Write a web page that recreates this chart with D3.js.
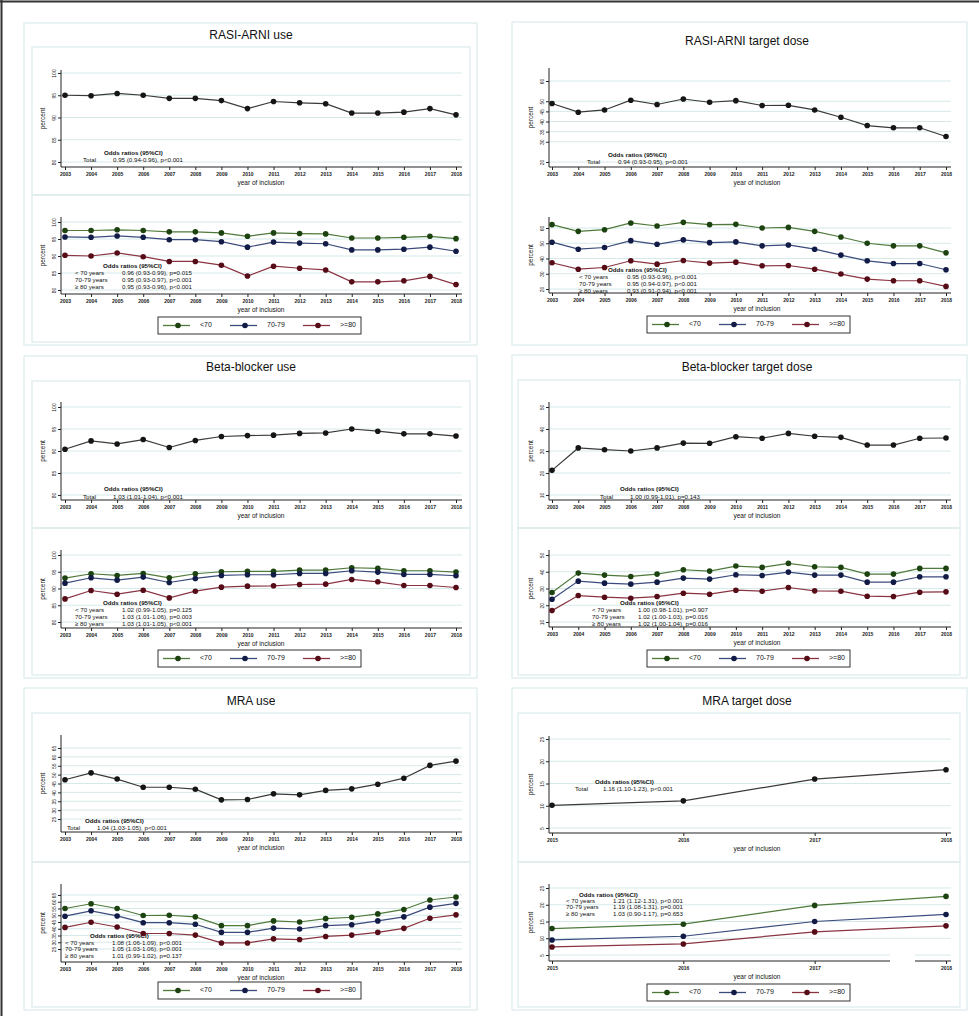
<!DOCTYPE html>
<html lang="en">
<head>
<meta charset="UTF-8">
<title>Treatment trends by year of inclusion</title>
<script src="https://cdn.jsdelivr.net/npm/d3@7"></script>
<style>
  body { margin: 0; background: #fff; }
  svg { display: block; font-family: "Liberation Sans", Arial, sans-serif; }
</style>
</head>
<body>
<div id="chart"></div>
<script>
// ---- data ----
const years = [2003, 2004, 2005, 2006, 2007, 2008, 2009, 2010, 2011, 2012, 2013, 2014, 2015, 2016, 2017, 2018];
const yearsMraDose = [2015, 2016, 2017, 2018];
const groups = ["<70", "70-79", ">=80"];
const orLabels = ["< 70 years", "70-79 years", "\u2265 80 years"];

// RASI-ARNI use
const rasiUseTotal = [95.0, 94.9, 95.4, 95.0, 94.3, 94.3, 93.8, 92.0, 93.6, 93.3, 93.1, 91.0, 91.0, 91.2, 92.0, 90.6];
const rasiUseLt70 = [97.5, 97.5, 97.7, 97.5, 97.1, 97.1, 96.8, 95.8, 96.8, 96.6, 96.5, 95.3, 95.3, 95.5, 95.8, 95.1];
const rasiUse7079 = [95.6, 95.5, 95.9, 95.5, 94.8, 94.8, 94.2, 92.6, 94.1, 93.8, 93.6, 91.8, 91.8, 92.0, 92.6, 91.4];
const rasiUseGe80 = [90.2, 90.0, 90.9, 89.8, 88.4, 88.4, 87.3, 84.1, 87.0, 86.4, 85.9, 82.4, 82.4, 82.7, 84.0, 81.6];
const rasiUseTicks = [80, 85, 90, 95, 100];
const rasiUseOrTotal = "0.95 (0.94-0.96), p<0.001";
const rasiUseOrAge = ["0.96 (0.93-0.99), p=0.015", "0.95 (0.93-0.97), p<0.001", "0.95 (0.93-0.96), p<0.001"];

// RASI-ARNI target dose
const rasiDoseTotal = [48.9, 44.6, 45.7, 50.5, 48.4, 51.1, 49.5, 50.3, 47.9, 48.0, 45.7, 42.1, 38.0, 36.9, 36.9, 32.6];
const rasiDoseLt70 = [62.2, 57.8, 58.9, 63.3, 61.3, 63.7, 62.2, 62.4, 60.0, 60.4, 57.8, 54.1, 50.0, 48.3, 48.3, 43.7];
const rasiDose7079 = [50.7, 46.1, 47.2, 51.7, 49.3, 52.2, 50.4, 50.9, 48.3, 48.9, 46.1, 42.2, 38.5, 36.7, 36.7, 32.6];
const rasiDoseGe80 = [37.2, 33.0, 34.1, 38.5, 36.3, 38.7, 37.0, 37.6, 35.2, 35.4, 33.0, 29.8, 26.5, 25.4, 25.4, 21.7];
const rasiDoseTicksTotal = [20, 30, 35, 40, 45, 50, 60];
const rasiDoseTicksAge = [20, 30, 40, 50, 60];
const rasiDoseOrTotal = "0.94 (0.93-0.95), p<0.001";
const rasiDoseOrAge = ["0.95 (0.93-0.96), p<0.001", "0.95 (0.94-0.97), p<0.001", "0.93 (0.91-0.94), p<0.001"];

// Beta-blocker use
const bbUseTotal = [90.4, 92.3, 91.6, 92.6, 90.8, 92.4, 93.3, 93.5, 93.6, 94.0, 94.1, 95.0, 94.5, 93.9, 93.9, 93.4];
const bbUseLt70 = [93.1, 94.4, 93.9, 94.5, 93.2, 94.4, 95.0, 95.1, 95.1, 95.5, 95.5, 96.2, 96.0, 95.3, 95.3, 94.9];
const bbUse7079 = [91.6, 93.2, 92.5, 93.4, 91.8, 93.0, 93.9, 94.1, 94.1, 94.5, 94.5, 95.3, 94.9, 94.2, 94.2, 93.8];
const bbUseGe80 = [86.9, 89.4, 88.3, 89.5, 87.2, 89.2, 90.4, 90.7, 90.8, 91.2, 91.3, 92.7, 92.0, 90.9, 90.9, 90.3];
const bbUseTicks = [80, 85, 90, 95, 100];
const bbUseOrTotal = "1.03 (1.01-1.04), p<0.001";
const bbUseOrAge = ["1.02 (0.99-1.05), p=0.125", "1.03 (1.01-1.06), p=0.003", "1.03 (1.01-1.05), p<0.001"];

// Beta-blocker target dose
const bbDoseTotal = [21.2, 31.4, 30.6, 30.0, 31.4, 33.6, 33.5, 36.5, 35.8, 38.0, 36.7, 36.2, 32.7, 32.7, 35.8, 35.9];
const bbDoseLt70 = [27.6, 39.2, 38.0, 37.2, 38.6, 41.2, 40.4, 43.4, 42.6, 45.0, 43.0, 42.6, 38.6, 38.6, 42.0, 42.0];
const bbDose7079 = [23.6, 34.4, 33.2, 32.6, 33.8, 36.2, 35.6, 38.2, 37.8, 39.8, 38.0, 38.0, 33.8, 33.8, 37.0, 37.0];
const bbDoseGe80 = [16.8, 25.8, 24.8, 24.2, 25.2, 27.2, 26.6, 29.0, 28.4, 30.6, 28.6, 28.4, 25.4, 25.2, 27.8, 28.0];
const bbDoseTicks = [10, 20, 30, 40, 50];
const bbDoseOrTotal = "1.00 (0.99-1.01), p=0.143";
const bbDoseOrAge = ["1.00 (0.98-1.01), p=0.907", "1.02 (1.00-1.03), p=0.016", "1.02 (1.00-1.04), p=0.016"];

// MRA use
const mraUseTotal = [47.1, 51.0, 47.5, 42.9, 42.9, 41.8, 35.8, 36.0, 39.2, 38.6, 41.1, 42.0, 44.6, 48.0, 55.2, 57.6];
const mraUseLt70 = [55.0, 58.5, 55.0, 49.8, 50.0, 48.8, 42.3, 42.3, 45.8, 45.0, 47.5, 48.5, 51.0, 54.3, 61.3, 63.5];
const mraUse7079 = [49.3, 53.3, 49.5, 44.5, 44.5, 43.3, 37.3, 37.3, 40.5, 39.8, 42.3, 43.0, 45.8, 48.8, 56.0, 58.8];
const mraUseGe80 = [41.0, 44.8, 41.3, 36.5, 36.5, 35.3, 29.5, 29.5, 32.5, 32.0, 34.3, 35.3, 37.3, 40.3, 47.8, 50.3];
const mraUseTicks = [25, 30, 35, 40, 45, 50, 55, 60, 65];
const mraUseOrTotal = "1.04 (1.03-1.05), p<0.001";
const mraUseOrAge = ["1.08 (1.06-1.09), p<0.001", "1.05 (1.03-1.06), p<0.001", "1.01 (0.99-1.02), p=0.137"];

// MRA target dose
const mraDoseTotal = [10.1, 11.1, 16.0, 18.1];
const mraDoseLt70 = [12.9, 14.2, 19.8, 22.5];
const mraDose7079 = [9.5, 10.6, 15.0, 17.1];
const mraDoseGe80 = [7.4, 8.3, 11.9, 13.7];
const mraDoseTicks = [5, 10, 15, 20, 25];
const mraDoseOrTotal = "1.16 (1.10-1.23), p<0.001";
const mraDoseOrAge = ["1.21 (1.12-1.31), p<0.001", "1.19 (1.08-1.31), p=0.001", "1.03 (0.90-1.17), p=0.653"];

// ---- styling ----
const groupLine = ["#4f7a3b", "#3b4b7c", "#8a3442"];
const groupDot = ["#1c4210", "#111b45", "#560c17"];
const boxColor = "#dcecec";
const gridColor = "#d6e9e9";

const width = 979, height = 1016;
const svg = d3.select("#chart").append("svg")
    .attr("width", width)
    .attr("height", height);

// column geometry
const cols = [
    { axisX: 61, rightX: 462, xFirst: 65, xLast: 456, center: 251, legendX: 158 },
    { axisX: 549, rightX: 951, xFirst: 552, xLast: 946, center: 747, legendX: 647 }
];

function box(b) {
    svg.append("rect")
        .attr("x", b[0]).attr("y", b[1])
        .attr("width", b[2] - b[0]).attr("height", b[3] - b[1])
        .attr("fill", "none")
        .attr("stroke", boxColor)
        .attr("stroke-width", 1.2);
}

function drawPlot(p) {
    const c = cols[p.col];
    const g = svg.append("g");

    const x = d3.scaleLinear()
        .domain([p.xs[0], p.xs[p.xs.length - 1]])
        .range([c.xFirst, c.xLast]);
    const y = d3.scaleLinear()
        .domain([p.refA[0], p.refB[0]])
        .range([p.refA[1], p.refB[1]]);

    g.append("text")
        .attr("x", c.center).attr("y", p.subY)
        .attr("text-anchor", "middle").attr("dominant-baseline", "middle")
        .attr("font-size", 9).attr("fill", "#111")
        .text(p.subtitle);

    // gridlines
    g.append("g").selectAll("line")
        .data(p.ticks)
        .join("line")
        .attr("x1", c.axisX).attr("x2", c.rightX)
        .attr("y1", d => y(d)).attr("y2", d => y(d))
        .attr("stroke", gridColor).attr("stroke-width", 1);

    // y axis
    g.append("g")
        .attr("transform", `translate(${c.axisX},0)`)
        .call(d3.axisLeft(y).tickValues(p.ticks).tickSize(3).tickFormat(d3.format("d")))
        .call(a => a.select(".domain").remove())
        .call(a => a.selectAll("line").attr("stroke", "#222"))
        .call(a => a.selectAll("text")
            .attr("transform", "rotate(-90)")
            .attr("x", 0).attr("y", -5).attr("dy", 0)
            .attr("text-anchor", "middle")
            .attr("font-size", 5).attr("fill", "#222"));
    g.append("line")
        .attr("x1", c.axisX).attr("x2", c.axisX)
        .attr("y1", p.axisTop).attr("y2", p.base)
        .attr("stroke", "#222").attr("stroke-width", 1);

    g.append("text")
        .attr("transform", `translate(${c.axisX - 16},${(p.axisTop + p.base) / 2}) rotate(-90)`)
        .attr("text-anchor", "middle")
        .attr("font-size", 6.5).attr("fill", "#111")
        .text("percent");

    // x axis
    g.append("g")
        .attr("transform", `translate(0,${p.base})`)
        .call(d3.axisBottom(x).tickValues(p.xs).tickSize(3).tickFormat(d3.format("d")))
        .call(a => a.select(".domain").remove())
        .call(a => a.selectAll("line").attr("stroke", "#222"))
        .call(a => a.selectAll("text")
            .attr("y", 5).attr("dy", "0.71em")
            .attr("font-size", 5).attr("font-weight", "bold").attr("fill", "#222"));
    g.append("line")
        .attr("x1", c.axisX).attr("x2", c.rightX)
        .attr("y1", p.base).attr("y2", p.base)
        .attr("stroke", "#222").attr("stroke-width", 1);

    g.append("text")
        .attr("x", c.center + 10).attr("y", p.base + 16)
        .attr("text-anchor", "middle").attr("dominant-baseline", "middle")
        .attr("font-size", 6.5).attr("fill", "#111")
        .text("year of inclusion");

    // odds ratio note
    const n = p.note;
    g.append("text")
        .attr("x", n.headX).attr("y", n.headY)
        .attr("dominant-baseline", "middle")
        .attr("font-size", 6.2).attr("font-weight", "bold").attr("fill", "#111")
        .text("Odds ratios (95%CI)");
    n.rows.forEach((r, i) => {
        g.append("text")
            .attr("x", n.labelX).attr("y", n.firstY + i * n.gap)
            .attr("dominant-baseline", "middle")
            .attr("font-size", 6.2).attr("fill", "#111")
            .text(r[0]);
        g.append("text")
            .attr("x", n.valueX).attr("y", n.firstY + i * n.gap)
            .attr("dominant-baseline", "middle")
            .attr("font-size", 6.2).attr("fill", "#111")
            .text(r[1]);
    });

    // series
    const line = d3.line().x((d, i) => x(p.xs[i])).y(d => y(d));
    p.series.forEach(s => {
        g.append("path")
            .datum(s.values)
            .attr("fill", "none")
            .attr("stroke", s.line)
            .attr("stroke-width", 1.2)
            .attr("d", line);
        g.append("g").selectAll("circle")
            .data(s.values)
            .join("circle")
            .attr("cx", (d, i) => x(p.xs[i]))
            .attr("cy", d => y(d))
            .attr("r", 2.8)
            .attr("fill", s.dot);
    });
}

function drawLegend(col, top) {
    const lx = cols[col].legendX;
    const g = svg.append("g").attr("transform", `translate(${lx},${top})`);
    g.append("rect")
        .attr("width", 203).attr("height", 17)
        .attr("fill", "#fff").attr("stroke", "#333").attr("stroke-width", 1);
    const item = d3.scaleOrdinal().domain(groups).range([5, 72, 145]);
    groups.forEach((k, i) => {
        const ix = item(k);
        g.append("line")
            .attr("x1", ix).attr("x2", ix + 27)
            .attr("y1", 8.5).attr("y2", 8.5)
            .attr("stroke", groupLine[i]).attr("stroke-width", 1.3);
        g.append("circle")
            .attr("cx", ix + 15).attr("cy", 8.5).attr("r", 2.8)
            .attr("fill", groupDot[i]);
        g.append("text")
            .attr("x", ix + 37).attr("y", 8.5)
            .attr("dominant-baseline", "middle")
            .attr("font-size", 7).attr("fill", "#111")
            .text(k);
    });
}

function ageSeries(a, b, c) {
    return [a, b, c].map((v, i) => ({ values: v, line: groupLine[i], dot: groupDot[i] }));
}
function totalSeries(v) {
    return [{ values: v, line: "#3a3a3a", dot: "#151515" }];
}
function orRows(vals) {
    return vals.map((v, i) => [orLabels[i], v]);
}

// ---- panels ----
const panels = [
    {
        title: "RASI-ARNI use", col: 0, titleY: 36,
        outer: [24, 23, 477, 345], inner: [[32, 47, 470, 195], [32, 195, 470, 342]], legendTop: 317,
        total: {
            xs: years, ticks: rasiUseTicks, refA: [100, 73], refB: [80, 162], axisTop: 70, base: 167, subY: 62,
            series: totalSeries(rasiUseTotal),
            note: { headX: 104, headY: 153, labelX: 83, valueX: 113, firstY: 160, gap: 7, rows: [["Total", rasiUseOrTotal]] }
        },
        age: {
            xs: years, ticks: rasiUseTicks, refA: [100, 222], refB: [80, 290], axisTop: 217, base: 294, subY: 211,
            series: ageSeries(rasiUseLt70, rasiUse7079, rasiUseGe80),
            note: { headX: 103, headY: 266, labelX: 75, valueX: 122, firstY: 273, gap: 7, rows: orRows(rasiUseOrAge) }
        }
    },
    {
        title: "RASI-ARNI target dose", col: 1, titleY: 42,
        outer: [512, 22, 967, 345], inner: [], legendTop: 316,
        total: {
            xs: years, ticks: rasiDoseTicksTotal, refA: [60, 81], refB: [20, 162], axisTop: 68, base: 167, subY: 63,
            series: totalSeries(rasiDoseTotal),
            note: { headX: 608, headY: 155, labelX: 587, valueX: 618, firstY: 162, gap: 7, rows: [["Total", rasiDoseOrTotal]] }
        },
        age: {
            xs: years, ticks: rasiDoseTicksAge, refA: [60, 228], refB: [20, 289], axisTop: 217, base: 293, subY: 211,
            series: ageSeries(rasiDoseLt70, rasiDose7079, rasiDoseGe80),
            note: { headX: 608, headY: 270, labelX: 579, valueX: 627, firstY: 277, gap: 7, rows: orRows(rasiDoseOrAge) }
        }
    },
    {
        title: "Beta-blocker use", col: 0, titleY: 368,
        outer: [24, 356, 477, 678], inner: [[32, 381, 470, 528], [32, 528, 470, 675]], legendTop: 650,
        total: {
            xs: years, ticks: bbUseTicks, refA: [100, 407], refB: [80, 495], axisTop: 402, base: 500, subY: 396,
            series: totalSeries(bbUseTotal),
            note: { headX: 104, headY: 489, labelX: 83, valueX: 113, firstY: 497, gap: 7, rows: [["Total", bbUseOrTotal]] }
        },
        age: {
            xs: years, ticks: bbUseTicks, refA: [100, 555], refB: [80, 622], axisTop: 550, base: 628, subY: 544,
            series: ageSeries(bbUseLt70, bbUse7079, bbUseGe80),
            note: { headX: 103, headY: 603, labelX: 75, valueX: 122, firstY: 610, gap: 7, rows: orRows(bbUseOrAge) }
        }
    },
    {
        title: "Beta-blocker target dose", col: 1, titleY: 368,
        outer: [512, 355, 967, 678], inner: [[518, 380, 960, 528], [518, 528, 960, 675]], legendTop: 650,
        total: {
            xs: years, ticks: bbDoseTicks, refA: [50, 407], refB: [10, 495], axisTop: 402, base: 500, subY: 395,
            series: totalSeries(bbDoseTotal),
            note: { headX: 620, headY: 489, labelX: 600, valueX: 630, firstY: 497, gap: 7, rows: [["Total", bbDoseOrTotal]] }
        },
        age: {
            xs: years, ticks: bbDoseTicks, refA: [50, 555], refB: [10, 622], axisTop: 550, base: 627, subY: 544,
            series: ageSeries(bbDoseLt70, bbDose7079, bbDoseGe80),
            note: { headX: 620, headY: 603, labelX: 592, valueX: 638, firstY: 610, gap: 7, rows: orRows(bbDoseOrAge) }
        }
    },
    {
        title: "MRA use", col: 0, titleY: 702,
        outer: [24, 688, 477, 1010], inner: [[32, 713, 470, 862], [32, 862, 470, 1007]], legendTop: 982,
        total: {
            xs: years, ticks: mraUseTicks, refA: [65, 748], refB: [25, 819], axisTop: 735, base: 832, subY: 728,
            series: totalSeries(mraUseTotal),
            note: { headX: 85, headY: 821, labelX: 67, valueX: 97, firstY: 828, gap: 7, rows: [["Total", mraUseOrTotal]] }
        },
        age: {
            xs: years, ticks: mraUseTicks, refA: [65, 895], refB: [25, 949], axisTop: 884, base: 962, subY: 877,
            series: ageSeries(mraUseLt70, mraUse7079, mraUseGe80),
            note: { headX: 90, headY: 936, labelX: 65, valueX: 112, firstY: 943, gap: 6.5, rows: orRows(mraUseOrAge) }
        }
    },
    {
        title: "MRA target dose", col: 1, titleY: 702,
        outer: [512, 688, 967, 1010], inner: [[518, 713, 960, 862], [518, 862, 960, 1007]], legendTop: 984,
        total: {
            xs: yearsMraDose, ticks: mraDoseTicks, refA: [25, 739], refB: [5, 828], axisTop: 736, base: 833, subY: 728,
            series: totalSeries(mraDoseTotal),
            note: { headX: 595, headY: 782, labelX: 575, valueX: 603, firstY: 789, gap: 7, rows: [["Total", mraDoseOrTotal]] }
        },
        age: {
            xs: yearsMraDose, ticks: mraDoseTicks, refA: [25, 888], refB: [5, 955], axisTop: 884, base: 961, subY: 877,
            series: ageSeries(mraDoseLt70, mraDose7079, mraDoseGe80),
            note: { headX: 579, headY: 895, labelX: 566, valueX: 613, firstY: 901, gap: 6.5, rows: orRows(mraDoseOrAge) }
        }
    }
];

panels.forEach(pn => {
    box(pn.outer);
    pn.inner.forEach(box);
    svg.append("text")
        .attr("x", cols[pn.col].center).attr("y", pn.titleY)
        .attr("text-anchor", "middle").attr("dominant-baseline", "middle")
        .attr("font-size", 12).attr("fill", "#111")
        .text(pn.title);
    drawPlot(Object.assign({ col: pn.col }, pn.total));
    drawPlot(Object.assign({ col: pn.col }, pn.age));
    drawLegend(pn.col, pn.legendTop);
});

// the scan of the MRA target dose panel has a small blank break in its bottom axis
svg.append("rect").attr("x", 890).attr("y", 952).attr("width", 25).attr("height", 12).attr("fill", "#fff");

// frame of the figure (top and left edges)
svg.append("line").attr("x1", 0).attr("x2", width).attr("y1", 1.5).attr("y2", 1.5)
    .attr("stroke", "#333").attr("stroke-width", 2);
svg.append("line").attr("x1", 1.5).attr("x2", 1.5).attr("y1", 0).attr("y2", height)
    .attr("stroke", "#333").attr("stroke-width", 2);
</script>
</body>
</html>
